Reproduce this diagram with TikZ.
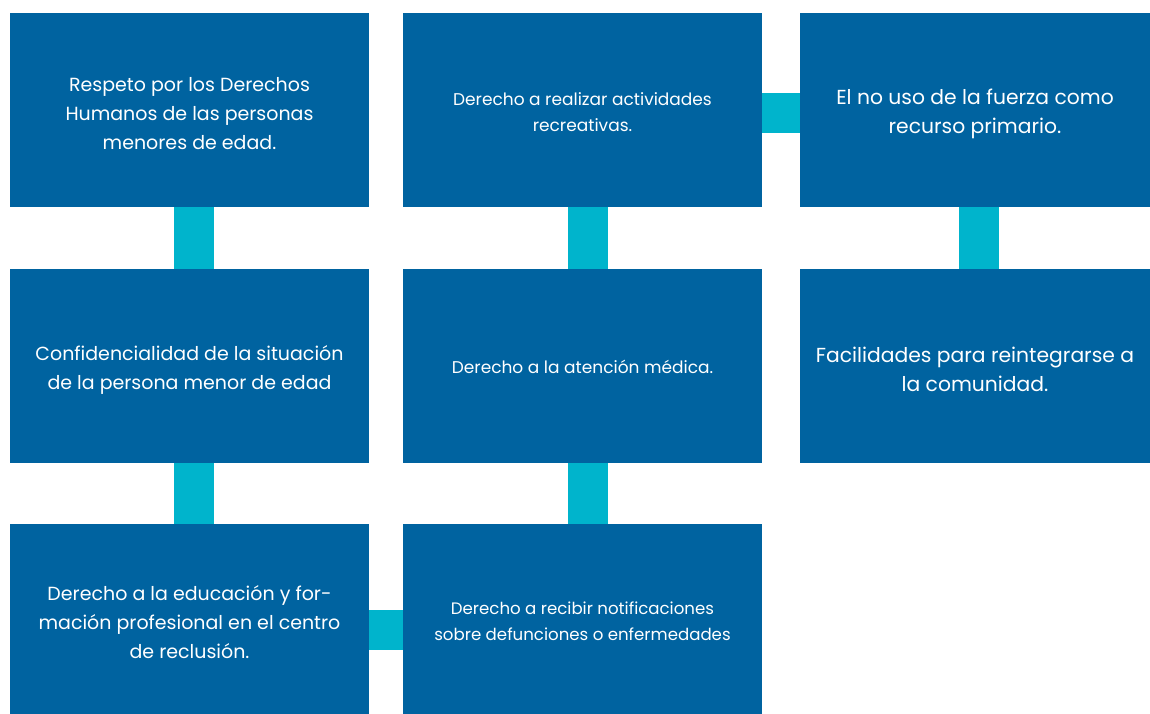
\documentclass[tikz,border=0pt]{standalone}
\usepackage{fontspec}
\setmainfont{Poppins}
\usetikzlibrary{calc}
\definecolor{boxblue}{RGB}{0,99,160}
\definecolor{conncyan}{RGB}{0,180,204}
\tikzset{
  box/.style={rectangle, fill=boxblue, inner sep=0pt, minimum width=359pt},
  txt/.style={text=white, align=center, inner sep=0pt},
  bigtext/.style={txt, font=\fontsize{19}{29}\selectfont},
  widetext/.style={txt, font=\fontsize{20.3}{29}\selectfont},
  smalltext/.style={txt, font=\fontsize{17}{26}\selectfont},
  conn/.style={fill=conncyan}
}
\begin{document}
\begin{tikzpicture}[x=1pt,y=-1pt]
\useasboundingbox (0,0) rectangle (1150,714);
% boxes
\node[box, minimum height=194pt] (a1) at (189.5,110) {};
\node[box, minimum height=194pt] (b1) at (582.5,110) {};
\node[box, minimum height=194pt, minimum width=350pt] (c1) at (975,110) {};
\node[box, minimum height=194pt] (a2) at (189.5,366) {};
\node[box, minimum height=194pt] (b2) at (582.5,366) {};
\node[box, minimum height=194pt, minimum width=350pt] (c2) at (975,366) {};
\node[box, minimum height=190pt] (a3) at (189.5,619) {};
\node[box, minimum height=190pt] (b3) at (582.5,619) {};
% texts
\node[bigtext] (ta1) at ($(a1)+(0,3.5)$) {Respeto por los Derechos\\Humanos de las personas\\menores de edad.};
\node[smalltext] (tb1) at ($(b1)+(0,2)$) {Derecho a realizar actividades\\recreativas.};
\node[widetext] (tc1) at ($(c1)+(0,3.5)$) {El no uso de la fuerza como\\recurso primario.};
\node[bigtext] (ta2) at ($(a2)+(0,3.5)$) {Confidencialidad de la situación\\de la persona menor de edad};
\node[smalltext] (tb2) at ($(b2)+(0,1)$) {Derecho a la atención médica.};
\node[widetext] (tc2) at ($(c2)+(0,3.5)$) {Facilidades para reintegrarse a\\la comunidad.};
\node[bigtext] (ta3) at ($(a3)+(0,3)$) {Derecho a la educación y for-\\mación profesional en el centro\\de reclusión.};
\node[smalltext, font=\fontsize{16.6}{26}\selectfont] (tb3) at ($(b3)+(0,2)$) {Derecho a recibir notificaciones\\sobre defunciones o enfermedades};
% connectors
\fill[conn] ($(a1.south)+(-15.5,0)$) rectangle ($(a2.north)+(24.5,0)$);
\fill[conn] ($(a2.south)+(-15.5,0)$) rectangle ($(a3.north)+(24.5,0)$);
\fill[conn] ($(b1.south)+(-14.5,0)$) rectangle ($(b2.north)+(25.5,0)$);
\fill[conn] ($(b2.south)+(-14.5,0)$) rectangle ($(b3.north)+(25.5,0)$);
\fill[conn] ($(c1.south)+(-16,0)$) rectangle ($(c2.north)+(24,0)$);
\fill[conn] ($(b1.east)+(0,-17)$) rectangle ($(c1.west)+(0,23)$);
\fill[conn] ($(a3.east)+(0,-9)$) rectangle ($(b3.west)+(0,31)$);
\end{tikzpicture}
\end{document}
